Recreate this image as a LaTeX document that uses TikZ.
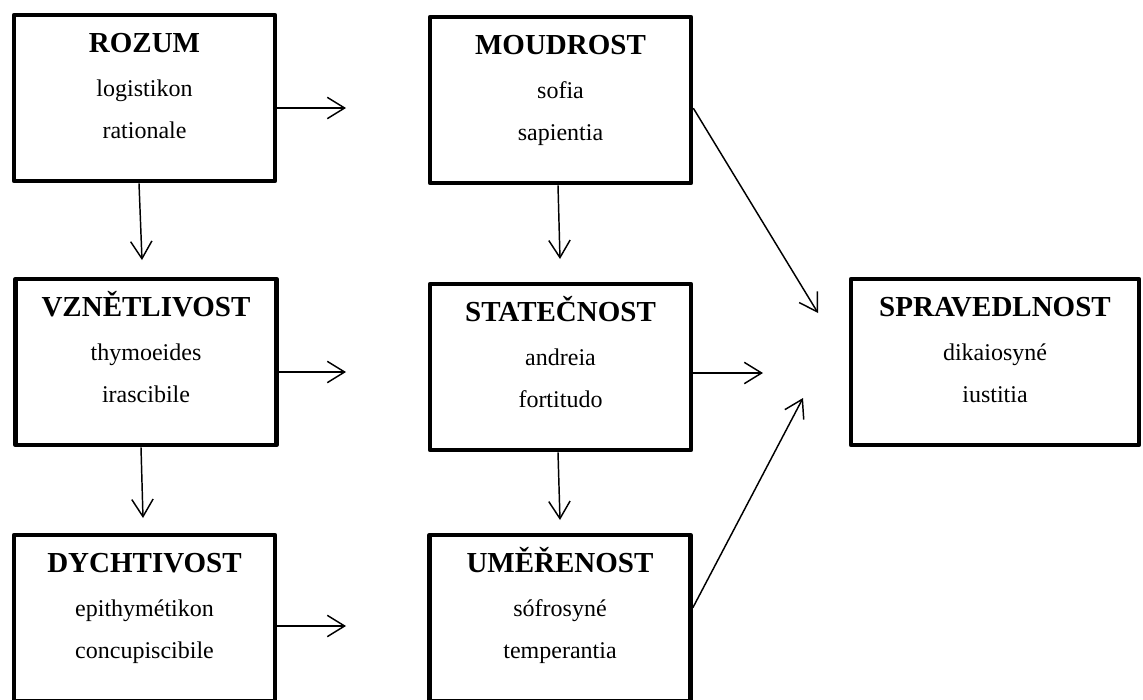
\documentclass[tikz,border=0pt]{standalone}
\usepackage{fontspec}
\setmainfont{Liberation Serif}
\usetikzlibrary{arrows.meta,calc}
\newcommand\boxlines[4]{%
  \node[ttl] (#1t) at ($(#1.north)+(0,40)$) {#2};
  \node[txt] (#1a) at ($(#1.north)+(0,84)$) {#3};
  \node[txt] (#1b) at ($(#1.north)+(0,126)$) {#4};}
\begin{document}
\begin{tikzpicture}[x=0.75pt,y=-0.75pt,
  vbox/.style={draw,line width=3.5pt,line join=round,minimum width=195.75pt,minimum height=124.5pt,inner sep=0pt},
  ttl/.style={anchor=base,font=\bfseries\fontsize{21.75}{26}\selectfont,inner sep=0pt},
  txt/.style={anchor=base,font=\fontsize{18}{22}\selectfont,inner sep=0pt},
  arr/.style={line width=1.1pt,-{Straight Barb[length=13pt,width=16pt,line width=1.1pt]}}]
\useasboundingbox (0,0) rectangle (1143,700);

% boxes
\node[vbox] (rozum) at (144.5,98) {};
\node[vbox] (moud) at (560.5,100) {};
\node[vbox] (vzn) at (146,362) {};
\node[vbox] (stat) at (560.5,367) {};
\node[vbox] (dych) at (144.5,618) {};
\node[vbox] (umer) at (560,618) {};
\node[vbox,minimum width=216pt] (sprav) at (995,362) {};

\boxlines{rozum}{ROZUM}{logistikon}{rationale}
\boxlines{moud}{MOUDROST}{sofia}{sapientia}
\boxlines{vzn}{VZNĚTLIVOST}{thymoeides}{irascibile}
\boxlines{stat}{STATEČNOST}{andreia}{fortitudo}
\boxlines{dych}{DYCHTIVOST}{epithymétikon}{concupiscibile}
\boxlines{umer}{UMĚŘENOST}{sófrosyné}{temperantia}
\boxlines{sprav}{SPRAVEDLNOST}{dikaiosyné}{iustitia}

% arrow ends
\coordinate (e1) at (346,108);
\coordinate (e2) at (346,372);
\coordinate (e3) at (346,626);
\coordinate (e4) at (763,373);
\coordinate (e5) at (818,313);
\coordinate (e6) at (803,398);
\coordinate (e7) at (142,260);
\coordinate (e8) at (560,259);
\coordinate (e9) at (143,518);
\coordinate (e10) at (560,520);

\draw[arr] (rozum.east |- e1) -- (e1);
\draw[arr] (vzn.east |- e2) -- (e2);
\draw[arr] (dych.east |- e3) -- (e3);
\draw[arr] (stat.east |- e4) -- (e4);
\draw[arr] ($(moud.north east)!0.548!(moud.south east)$) -- (e5);
\draw[arr] ($(umer.north east)!0.44!(umer.south east)$) -- (e6);
\draw[arr] ($(rozum.south)+(-5.5,0)$) -- (e7);
\draw[arr] ($(moud.south)+(-2.5,0)$) -- (e8);
\draw[arr] ($(vzn.south)+(-5,0)$) -- (e9);
\draw[arr] ($(stat.south)+(-2.5,0)$) -- (e10);
\end{tikzpicture}
\end{document}
